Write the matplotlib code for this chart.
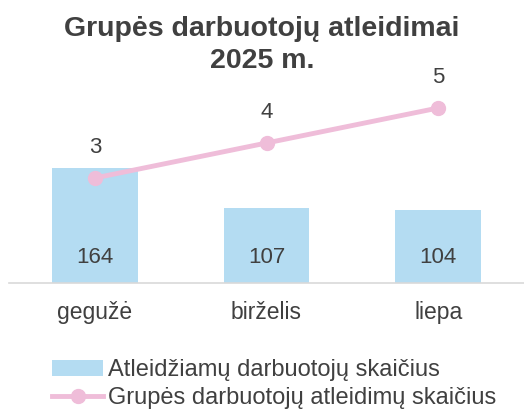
import matplotlib
matplotlib.use("Agg")
import matplotlib.pyplot as plt
from matplotlib.lines import Line2D
from matplotlib.patches import Patch

months = ["gegužė", "birželis", "liepa"]
employees = [164, 107, 104]
group_dismissals = [3, 4, 5]

bar_color = "#b4dcf2"
line_color = "#efbdd9"
text_color = "#404040"

plt.rcParams['font.family'] = ['Liberation Sans', 'DejaVu Sans']

fig = plt.figure(figsize=(5.24, 4.17), dpi=100)
ax = fig.add_axes([9 / 524, 1 - 283 / 417, 1 - 9 / 524, 210 / 417])
ax2 = ax.twinx()

x = list(range(len(months)))
ax.bar(x, employees, width=0.5, color=bar_color, zorder=1)
ax.set_ylim(0, 300)
ax.set_xlim(-0.5, len(months) - 0.5)

for xi, v in zip(x, employees):
    ax.text(xi, 36, str(v), ha="center", va="center", fontsize=16, color=text_color)

ax2.plot(x, group_dismissals, color=line_color, lw=3.5, marker="o", ms=10, zorder=3)
ax2.set_ylim(0, 6)
for xi, v in zip(x, group_dismissals):
    ax2.text(xi, v + 0.88, str(v), ha="center", va="center", fontsize=16, color=text_color)

for a in (ax, ax2):
    for s in a.spines.values():
        s.set_visible(False)
    a.set_yticks([])
ax.spines["bottom"].set_visible(True)
ax.spines["bottom"].set_color("#d9d9d9")
ax.spines["bottom"].set_linewidth(1.2)
ax.set_xticks(x)
ax.set_xticklabels(months, fontsize=16.5, color=text_color)
ax.tick_params(axis="x", length=0, pad=13)

# title in two pieces so the second line stays narrow
fig.text(0.5, 1 - 29 / 417, "Grupės darbuotojų atleidimai", ha="center", va="center",
         fontsize=20.5, fontweight="bold", color=text_color)
fig.text(0.5, 1 - 61 / 417, "2025 m.", ha="center", va="center",
         fontsize=20.5, fontweight="bold", color=text_color)

handles = [Patch(facecolor=bar_color, edgecolor="none"),
           Line2D([0], [0], color=line_color, lw=3.5, marker="o", ms=10)]
labels = ["Atleidžiamų darbuotojų skaičius", "Grupės darbuotojų atleidimų skaičius"]
fig.legend(handles, labels, loc="center", bbox_to_anchor=(0.5 + 12 / 524, 1 - 384 / 417), frameon=False,
           fontsize=17, labelcolor=text_color, handlelength=2.2, handletextpad=0.2,
           labelspacing=0.25, borderaxespad=0)

fig.savefig("out.png", dpi=100)
